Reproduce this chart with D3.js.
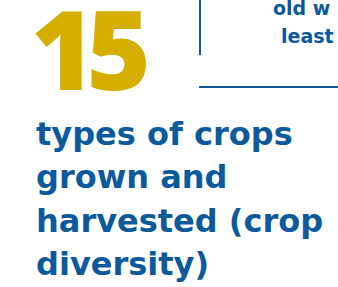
<!DOCTYPE html>
<html>
<head>
<meta charset="utf-8">
<script src="https://cdn.jsdelivr.net/npm/d3@7"></script>
<style>
  html, body { margin: 0; padding: 0; background: #fff; overflow: hidden; }
</style>
</head>
<body>
<div id="visualization"></div>
<script>
// Values shown in the graphic
const bigNumber = "15";
const labelLines = ["types of crops", "grown and", "harvested (crop", "diversity)"];
const sideLines = ["old w", "least"];

const width = 338, height = 287;
const blue = "#0a5a9c", gold = "#d4af00";
const font = "'DejaVu Sans', sans-serif";

const svg = d3.select("#visualization")
    .append("svg")
    .attr("width", width)
    .attr("height", height);

// Big number
svg.append("text")
    .attr("x", 31)
    .attr("y", 90)
    .attr("fill", gold)
    .style("font-family", "'Open Sans', sans-serif")
    .style("font-weight", 800)
    .style("font-size", "110px")
    .style("letter-spacing", "-9px")
    .text(bigNumber);

// Label lines below the number
const lineY = d3.scaleLinear()
    .domain([0, labelLines.length - 1])
    .range([145, 275]);

svg.selectAll("text.label")
    .data(labelLines)
    .enter()
    .append("text")
    .attr("class", "label")
    .attr("x", 36)
    .attr("y", (d, i) => lineY(i))
    .attr("fill", blue)
    .style("font-family", font)
    .style("font-weight", 700)
    .style("font-size", "32px")
    .text(d => d);

// Frame of the neighbouring panel
svg.append("line")
    .attr("x1", 200).attr("x2", 200)
    .attr("y1", 0).attr("y2", 55)
    .attr("stroke", blue)
    .attr("stroke-width", 2);

svg.append("line")
    .attr("x1", 199).attr("x2", width)
    .attr("y1", 87).attr("y2", 87)
    .attr("stroke", blue)
    .attr("stroke-width", 2);

// Clipped text of the neighbouring panel
const sideX = [273, 281];
svg.selectAll("text.side")
    .data(sideLines)
    .enter()
    .append("text")
    .attr("class", "side")
    .attr("x", (d, i) => sideX[i])
    .attr("y", (d, i) => 15 + i * 28)
    .attr("fill", blue)
    .style("font-family", font)
    .style("font-weight", 700)
    .style("font-size", "19px")
    .text(d => d);
</script>
</body>
</html>
